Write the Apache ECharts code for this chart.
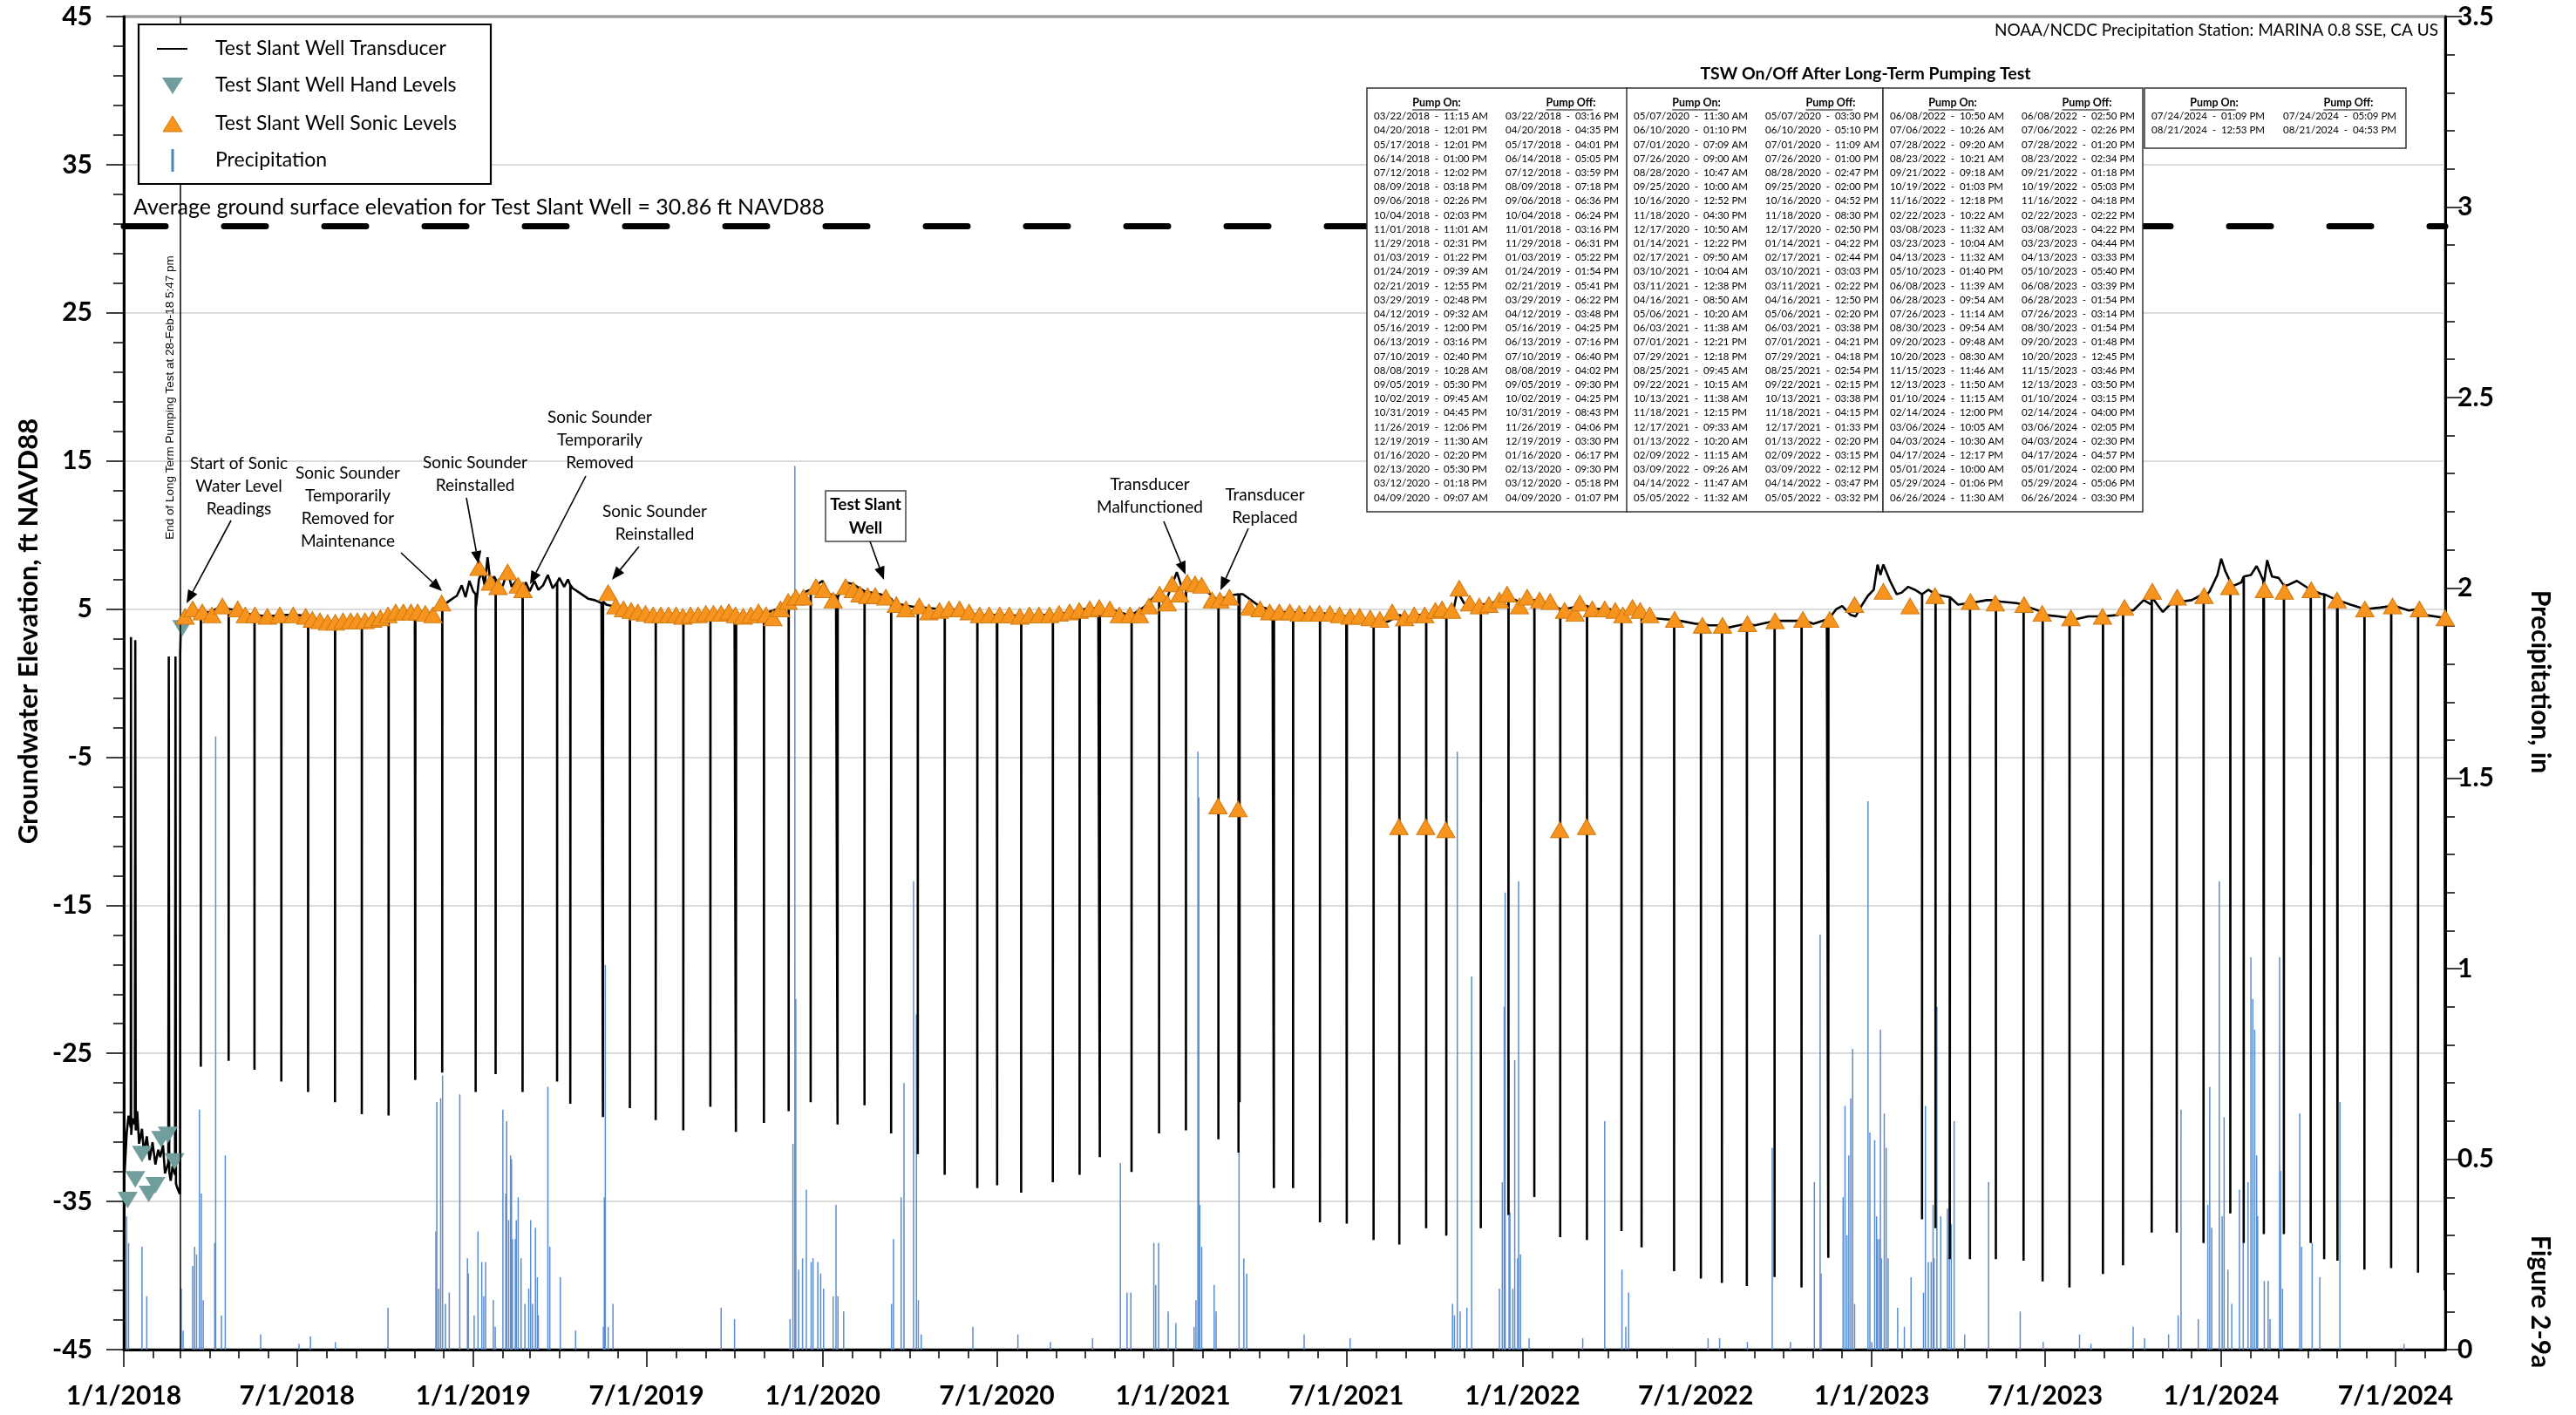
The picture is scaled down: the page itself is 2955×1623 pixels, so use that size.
<!DOCTYPE html>
<html><head><meta charset="utf-8">
<script src="https://cdn.jsdelivr.net/npm/echarts@6/dist/echarts.min.js"></script>
<style>html,body{margin:0;padding:0;background:#fff}#c{width:2955px;height:1623px}</style>
</head><body><div id="c"></div><script>
// ---------------- DATA ----------------
const seriesNames = ['Test Slant Well Transducer','Test Slant Well Hand Levels','Test Slant Well Sonic Levels','Precipitation'];

// Transducer background level (between pumping events)
const transducerBase = [
['2018-01-01',-33.5],['2018-01-02',-32.9],['2018-01-04',-30.4],['2018-01-06',-29.2],['2018-01-08 06:00',-30.0],['2018-01-08 12:00',3.1],['2018-01-08 18:00',-30.5],['2018-01-10',-29.4],['2018-01-12 12:00',-29.8],['2018-01-13 00:00',2.9],['2018-01-13 12:00',-30.2],['2018-01-15',-28.9],['2018-01-17',-31.1],['2018-01-20',-30.1],['2018-01-22',-31.7],['2018-01-25',-30.6],['2018-01-28',-32.2],['2018-01-31',-31.0],['2018-02-03',-32.5],['2018-02-06',-31.5],['2018-02-08',-32.0],['2018-02-11',-31.2],['2018-02-13',-33.1],['2018-02-16 12:00',-32.4],['2018-02-17 00:00',1.8],['2018-02-17 12:00',-33.0],['2018-02-19',-33.6],['2018-02-21',-32.6],['2018-02-23 12:00',-33.2],['2018-02-24 00:00',1.8],['2018-02-24 12:00',-33.8],['2018-02-26',-34.1],['2018-02-28 12:00',-34.5],['2018-02-28 17:47',-34.2],['2018-02-28 22:00',2.0],['2018-03-01 12:00',3.6],
['2018-03-04',4.4],['2018-03-10',4.8],['2018-03-15',5.0],['2018-04-01',4.8],['2018-04-14',5.2],['2018-05-01',4.9],['2018-05-15',4.6],['2018-06-01',4.5],['2018-06-15',4.6],['2018-07-01',4.6],['2018-07-15',4.4],['2018-08-01',4.1],['2018-08-15',4.1],['2018-09-01',4.2],['2018-09-15',4.2],['2018-10-01',4.4],['2018-10-15',4.8],['2018-11-01',4.8],['2018-11-15',4.7],['2018-12-01',5.1],['2018-12-08',5.6],['2018-12-15',5.9],['2018-12-20',6.6],['2018-12-24',5.8],['2018-12-28',6.9],
['2019-01-01',6.2],['2019-01-04',5.2],['2019-01-07',7.0],['2019-01-10',7.5],['2019-01-13',6.6],['2019-01-16',8.5],['2019-01-19',6.8],['2019-01-23',7.2],['2019-01-28',6.3],['2019-02-01',6.6],['2019-02-06',7.6],['2019-02-10',6.5],['2019-02-15',6.9],['2019-02-20',6.2],['2019-02-25',6.8],['2019-03-01',6.2],['2019-03-06',6.9],['2019-03-10',6.3],['2019-03-15',6.6],['2019-03-20',7.3],['2019-03-25',6.4],['2019-04-01',7.1],['2019-04-06',6.5],['2019-04-10',7.0],['2019-04-15',6.4],['2019-04-22',6.1],['2019-05-01',5.7],['2019-05-08',5.6],['2019-05-15',5.4],['2019-05-20',5.3],['2019-06-01',5.1],['2019-06-15',4.8],['2019-07-01',4.6],['2019-07-15',4.6],['2019-08-01',4.5],['2019-08-15',4.6],['2019-09-01',4.7],['2019-09-15',4.7],['2019-10-01',4.6],['2019-10-15',4.6],['2019-11-01',4.6],['2019-11-15',5.0],['2019-12-01',5.9],['2019-12-08',5.7],['2019-12-15',6.2],['2019-12-25',6.6],
['2020-01-01',6.9],['2020-01-08',6.0],['2020-01-15',5.9],['2020-01-25',6.8],['2020-02-01',6.7],['2020-02-15',6.2],['2020-03-01',6.0],['2020-03-15',5.4],['2020-04-01',5.2],['2020-04-15',5.1],['2020-05-01',5.0],['2020-05-15',5.0],['2020-06-01',4.7],['2020-06-15',4.6],['2020-07-01',4.6],['2020-07-15',4.6],['2020-08-01',4.5],['2020-08-15',4.6],['2020-09-01',4.6],['2020-09-15',4.8],['2020-10-01',5.0],['2020-10-15',5.1],['2020-11-01',4.9],['2020-11-15',4.6],['2020-12-01',5.1],['2020-12-15',6.0],['2020-12-25',5.6],
['2021-01-01',6.8],['2021-01-05',7.5],['2021-01-10',6.5],['2021-01-15',6.9],['2021-01-25',6.7],['2021-02-01',6.4],['2021-02-15',5.7],['2021-03-01',5.9],['2021-03-15',6.0],['2021-04-01',5.2],['2021-04-15',4.9],['2021-05-01',4.8],['2021-05-15',4.7],['2021-06-01',4.7],['2021-06-15',4.7],['2021-07-01',4.5],['2021-07-15',4.4],['2021-08-01',3.9],['2021-08-15',4.2],['2021-09-01',4.4],['2021-09-15',4.6],['2021-10-01',4.7],['2021-10-15',4.8],['2021-10-20',4.6],['2021-10-25',6.2],['2021-11-01',5.4],['2021-11-15',5.2],['2021-12-01',5.4],['2021-12-15',5.9],
['2022-01-01',5.4],['2022-01-15',5.7],['2022-02-01',5.3],['2022-02-15',5.0],['2022-03-01',5.2],['2022-03-15',5.0],['2022-04-01',5.0],['2022-04-15',4.7],['2022-05-01',4.8],['2022-05-15',4.4],['2022-06-01',4.3],['2022-06-15',4.2],['2022-07-01',4.0],['2022-07-15',3.9],['2022-08-01',3.7],['2022-08-15',3.9],['2022-09-01',3.9],['2022-09-15',4.1],['2022-10-01',4.2],['2022-10-15',4.2],['2022-11-01',4.0],['2022-11-15',4.3],['2022-11-25',5.0],['2022-12-01',5.2],['2022-12-10',4.6],['2022-12-15',4.5],['2022-12-22',5.3],['2022-12-28',5.9],
['2023-01-03',6.3],['2023-01-07',8.0],['2023-01-10',7.3],['2023-01-13',8.0],['2023-01-20',6.9],['2023-01-27',6.0],['2023-02-01',6.1],['2023-02-08',6.5],['2023-02-15',6.3],['2023-03-01',6.3],['2023-03-15',5.9],['2023-04-01',5.3],['2023-04-15',5.3],['2023-05-01',5.6],['2023-05-15',5.5],['2023-06-01',5.4],['2023-06-15',5.1],['2023-07-01',4.6],['2023-07-15',4.5],['2023-08-01',4.3],['2023-08-15',4.5],['2023-09-01',4.5],['2023-09-15',4.6],['2023-10-01',4.9],['2023-10-12',5.6],['2023-10-20',5.3],['2023-11-01',4.8],['2023-11-10',5.4],['2023-11-20',5.5],['2023-12-01',5.6],['2023-12-10',5.9],['2023-12-20',6.2],['2023-12-28',7.3],
['2024-01-01',8.4],['2024-01-05',7.6],['2024-01-10',6.9],['2024-01-15',6.6],['2024-01-22',6.8],['2024-02-01',7.3],['2024-02-07',7.9],['2024-02-10',7.5],['2024-02-14',6.9],['2024-02-18',8.3],['2024-02-23',7.2],['2024-03-01',7.1],['2024-03-10',6.6],['2024-03-20',6.9],['2024-04-01',6.4],['2024-04-15',6.0],['2024-05-01',5.6],['2024-05-15',5.3],['2024-06-01',5.0],['2024-06-15',5.1],['2024-07-01',5.2],['2024-07-15',4.9],['2024-08-01',4.6],['2024-08-22',4.4]
];

// Pump on/off table (also the timing of each drawdown spike)
const pumpOn = [
'03/22/2018 - 11:15 AM','04/20/2018 - 12:01 PM','05/17/2018 - 12:01 PM','06/14/2018 - 01:00 PM','07/12/2018 - 12:02 PM','08/09/2018 - 03:18 PM','09/06/2018 - 02:26 PM','10/04/2018 - 02:03 PM','11/01/2018 - 11:01 AM','11/29/2018 - 02:31 PM','01/03/2019 - 01:22 PM','01/24/2019 - 09:39 AM','02/21/2019 - 12:55 PM','03/29/2019 - 02:48 PM','04/12/2019 - 09:32 AM','05/16/2019 - 12:00 PM','06/13/2019 - 03:16 PM','07/10/2019 - 02:40 PM','08/08/2019 - 10:28 AM','09/05/2019 - 05:30 PM','10/02/2019 - 09:45 AM','10/31/2019 - 04:45 PM','11/26/2019 - 12:06 PM','12/19/2019 - 11:30 AM','01/16/2020 - 02:20 PM','02/13/2020 - 05:30 PM','03/12/2020 - 01:18 PM','04/09/2020 - 09:07 AM',
'05/07/2020 - 11:30 AM','06/10/2020 - 01:10 PM','07/01/2020 - 07:09 AM','07/26/2020 - 09:00 AM','08/28/2020 - 10:47 AM','09/25/2020 - 10:00 AM','10/16/2020 - 12:52 PM','11/18/2020 - 04:30 PM','12/17/2020 - 10:50 AM','01/14/2021 - 12:22 PM','02/17/2021 - 09:50 AM','03/10/2021 - 10:04 AM','03/11/2021 - 12:38 PM','04/16/2021 - 08:50 AM','05/06/2021 - 10:20 AM','06/03/2021 - 11:38 AM','07/01/2021 - 12:21 PM','07/29/2021 - 12:18 PM','08/25/2021 - 09:45 AM','09/22/2021 - 10:15 AM','10/13/2021 - 11:38 AM','11/18/2021 - 12:15 PM','12/17/2021 - 09:33 AM','01/13/2022 - 10:20 AM','02/09/2022 - 11:15 AM','03/09/2022 - 09:26 AM','04/14/2022 - 11:47 AM','05/05/2022 - 11:32 AM',
'06/08/2022 - 10:50 AM','07/06/2022 - 10:26 AM','07/28/2022 - 09:20 AM','08/23/2022 - 10:21 AM','09/21/2022 - 09:18 AM','10/19/2022 - 01:03 PM','11/16/2022 - 12:18 PM','02/22/2023 - 10:22 AM','03/08/2023 - 11:32 AM','03/23/2023 - 10:04 AM','04/13/2023 - 11:32 AM','05/10/2023 - 01:40 PM','06/08/2023 - 11:39 AM','06/28/2023 - 09:54 AM','07/26/2023 - 11:14 AM','08/30/2023 - 09:54 AM','09/20/2023 - 09:48 AM','10/20/2023 - 08:30 AM','11/15/2023 - 11:46 AM','12/13/2023 - 11:50 AM','01/10/2024 - 11:15 AM','02/14/2024 - 12:00 PM','03/06/2024 - 10:05 AM','04/03/2024 - 10:30 AM','04/17/2024 - 12:17 PM','05/01/2024 - 10:00 AM','05/29/2024 - 01:06 PM','06/26/2024 - 11:30 AM',
'07/24/2024 - 01:09 PM','08/21/2024 - 12:53 PM'];
const pumpOff = [
'03/22/2018 - 03:16 PM','04/20/2018 - 04:35 PM','05/17/2018 - 04:01 PM','06/14/2018 - 05:05 PM','07/12/2018 - 03:59 PM','08/09/2018 - 07:18 PM','09/06/2018 - 06:36 PM','10/04/2018 - 06:24 PM','11/01/2018 - 03:16 PM','11/29/2018 - 06:31 PM','01/03/2019 - 05:22 PM','01/24/2019 - 01:54 PM','02/21/2019 - 05:41 PM','03/29/2019 - 06:22 PM','04/12/2019 - 03:48 PM','05/16/2019 - 04:25 PM','06/13/2019 - 07:16 PM','07/10/2019 - 06:40 PM','08/08/2019 - 04:02 PM','09/05/2019 - 09:30 PM','10/02/2019 - 04:25 PM','10/31/2019 - 08:43 PM','11/26/2019 - 04:06 PM','12/19/2019 - 03:30 PM','01/16/2020 - 06:17 PM','02/13/2020 - 09:30 PM','03/12/2020 - 05:18 PM','04/09/2020 - 01:07 PM',
'05/07/2020 - 03:30 PM','06/10/2020 - 05:10 PM','07/01/2020 - 11:09 AM','07/26/2020 - 01:00 PM','08/28/2020 - 02:47 PM','09/25/2020 - 02:00 PM','10/16/2020 - 04:52 PM','11/18/2020 - 08:30 PM','12/17/2020 - 02:50 PM','01/14/2021 - 04:22 PM','02/17/2021 - 02:44 PM','03/10/2021 - 03:03 PM','03/11/2021 - 02:22 PM','04/16/2021 - 12:50 PM','05/06/2021 - 02:20 PM','06/03/2021 - 03:38 PM','07/01/2021 - 04:21 PM','07/29/2021 - 04:18 PM','08/25/2021 - 02:54 PM','09/22/2021 - 02:15 PM','10/13/2021 - 03:38 PM','11/18/2021 - 04:15 PM','12/17/2021 - 01:33 PM','01/13/2022 - 02:20 PM','02/09/2022 - 03:15 PM','03/09/2022 - 02:12 PM','04/14/2022 - 03:47 PM','05/05/2022 - 03:32 PM',
'06/08/2022 - 02:50 PM','07/06/2022 - 02:26 PM','07/28/2022 - 01:20 PM','08/23/2022 - 02:34 PM','09/21/2022 - 01:18 PM','10/19/2022 - 05:03 PM','11/16/2022 - 04:18 PM','02/22/2023 - 02:22 PM','03/08/2023 - 04:22 PM','03/23/2023 - 04:44 PM','04/13/2023 - 03:33 PM','05/10/2023 - 05:40 PM','06/08/2023 - 03:39 PM','06/28/2023 - 01:54 PM','07/26/2023 - 03:14 PM','08/30/2023 - 01:54 PM','09/20/2023 - 01:48 PM','10/20/2023 - 12:45 PM','11/15/2023 - 03:46 PM','12/13/2023 - 03:50 PM','01/10/2024 - 03:15 PM','02/14/2024 - 04:00 PM','03/06/2024 - 02:05 PM','04/03/2024 - 02:30 PM','04/17/2024 - 04:57 PM','05/01/2024 - 02:00 PM','05/29/2024 - 05:06 PM','06/26/2024 - 03:30 PM',
'07/24/2024 - 05:09 PM','08/21/2024 - 04:53 PM'];
// water level just before each pumping event, and the drawdown minimum (ft NAVD88)
const spikeTop = [4.8,5.0,4.6,4.6,4.5,4.1,4.2,4.6,4.8,5.2,6.0,7.0,6.4,6.8,6.6,5.5,4.8,4.6,4.5,4.7,4.6,4.7,5.4,6.3,5.8,6.2,5.7,5.1,
4.9,4.6,4.6,4.5,4.6,4.9,5.0,4.6,5.9,6.8,5.6,6.0,6.0,4.8,4.8,4.7,4.5,4.3,4.6,4.6,4.9,5.3,5.8,5.6,5.0,5.2,4.8,4.8,
4.3,4.0,3.9,4.0,4.2,4.3,4.3,6.0,6.0,5.8,5.4,5.6,5.3,4.8,4.4,4.5,5.0,5.8,5.3,5.7,6.6,6.8,6.6,6.3,6.0,5.6,5.0,5.2,
5.0,4.4];
const spikeMin = [-25.9,-25.5,-26.1,-26.9,-27.6,-28.3,-29.1,-29.2,-26.8,-26.3,-27.6,-26.4,-27.6,-26.9,-28.4,-29.3,-28.7,-29.5,-30.2,-28.6,-30.3,-29.7,-28.9,-28.3,-29.8,-28.5,-30.4,-31.8,
-33.2,-34.1,-33.9,-34.4,-33.7,-33.2,-32.0,-33.0,-30.4,-30.2,-30.8,-31.7,-28.3,-34.1,-34.1,-36.4,-36.5,-37.6,-37.9,-36.8,-37.3,-36.8,-35.9,-34.7,-37.4,-37.6,-37.0,-38.1,
-39.7,-40.2,-40.5,-40.7,-40.1,-40.8,-38.8,-36.2,-36.8,-38.9,-38.9,-38.9,-39.0,-40.4,-40.8,-39.9,-39.3,-37.1,-37.1,-37.8,-35.8,-37.2,-37.2,-37.8,-38.9,-39.0,-39.6,-39.5,
-39.8,-41.0];
// one drawdown seen in the record that is not listed in the table
const extraSpike = {on:'2024-01-24 11:00', off:'2024-01-24 15:00', top:7.2, min:-37.8};

const handLevels = [['2018-01-05',-34.9],['2018-01-13',-33.5],['2018-01-20',-31.8],['2018-01-27',-34.5],['2018-02-03',-33.9],['2018-02-09',-30.8],['2018-02-16',-30.5],['2018-02-23',-32.3],['2018-03-03',3.7]];

const sonicLevels = [
['2018-03-06',4.5],['2018-03-14',5.0],['2018-03-24',4.8],['2018-04-03',4.6],['2018-04-14',5.2],['2018-04-30',5.0],['2018-05-08',4.6],['2018-05-18',4.6],['2018-05-31',4.5],['2018-06-13',4.6],['2018-06-27',4.6],['2018-07-10',4.5],['2018-07-17',4.3],['2018-07-25',4.2],['2018-08-02',4.1],['2018-08-10',4.1],['2018-08-18',4.2],['2018-08-26',4.2],['2018-09-02',4.2],['2018-09-10',4.2],['2018-09-18',4.3],['2018-09-26',4.4],['2018-10-04',4.6],['2018-10-12',4.8],['2018-10-20',4.8],['2018-10-28',4.8],['2018-11-04',4.8],['2018-11-12',4.7],['2018-11-20',4.6],['2018-11-29',5.4],
['2019-01-07',7.8],['2019-01-19',6.8],['2019-01-27',6.5],['2019-02-06',7.5],['2019-02-17',6.6],['2019-02-22',6.3],
['2019-05-22',6.1],['2019-05-30',5.2],['2019-06-07',5.0],['2019-06-15',4.9],['2019-06-22',4.8],['2019-06-30',4.7],['2019-07-08',4.6],['2019-07-16',4.6],['2019-07-24',4.6],['2019-08-01',4.6],['2019-08-08',4.5],['2019-08-16',4.6],['2019-08-24',4.6],['2019-09-01',4.7],['2019-09-09',4.7],['2019-09-17',4.7],['2019-09-25',4.8],['2019-10-02',4.6],['2019-10-10',4.5],['2019-10-18',4.6],['2019-10-26',4.8],['2019-11-03',4.6],['2019-11-10',4.4],['2019-11-18',5.0],['2019-11-26',5.5],['2019-12-04',5.8],['2019-12-12',5.8],['2019-12-25',6.5],
['2020-01-02',6.3],['2020-01-12',5.6],['2020-01-25',6.5],['2020-02-02',6.3],['2020-02-09',6.0],['2020-02-17',5.9],['2020-02-25',5.9],['2020-03-07',5.8],['2020-03-18',5.3],['2020-03-28',5.0],['2020-04-11',5.2],['2020-04-21',4.8],['2020-05-02',4.9],['2020-05-12',5.0],['2020-05-23',5.0],['2020-06-02',4.8],['2020-06-13',4.6],['2020-06-23',4.6],['2020-07-04',4.6],['2020-07-14',4.6],['2020-07-25',4.5],['2020-08-04',4.6],['2020-08-14',4.6],['2020-08-25',4.6],['2020-09-04',4.7],['2020-09-15',4.8],['2020-09-25',4.9],['2020-10-06',5.0],['2020-10-16',5.1],['2020-10-27',5.0],['2020-11-06',4.6],['2020-11-17',4.6],['2020-11-27',4.6],['2020-12-07',5.2],['2020-12-18',6.0],['2020-12-26',5.4],['2020-12-31',6.7],
['2021-01-08',6.0],['2021-01-16',6.8],['2021-01-24',6.7],['2021-01-31',6.6],['2021-02-11',5.6],['2021-02-17',-8.3],['2021-02-19',5.6],['2021-03-01',5.8],['2021-03-10',-8.5],['2021-03-22',5.1],['2021-04-02',5.0],['2021-04-12',4.8],['2021-04-22',4.8],['2021-05-03',4.8],['2021-05-13',4.7],['2021-05-24',4.7],['2021-06-03',4.7],['2021-06-14',4.7],['2021-06-24',4.6],['2021-07-05',4.5],['2021-07-15',4.5],['2021-07-26',4.4],['2021-08-05',4.3],['2021-08-18',4.8],['2021-08-25',-9.7],['2021-08-31',4.4],['2021-09-10',4.6],['2021-09-21',4.6],['2021-09-22',-9.7],['2021-10-02',4.9],['2021-10-09',5.0],['2021-10-13',-9.9],['2021-10-19',4.9],['2021-10-27',6.4],['2021-11-07',5.4],['2021-11-17',5.2],['2021-11-27',5.3],['2021-12-08',5.6],['2021-12-16',6.0],['2021-12-29',5.2],
['2022-01-06',5.8],['2022-01-19',5.6],['2022-01-30',5.5],['2022-02-09',-9.9],['2022-02-14',4.9],['2022-02-25',4.7],['2022-03-02',5.4],['2022-03-09',-9.7],['2022-03-15',5.0],['2022-03-28',5.0],['2022-04-08',4.9],['2022-04-16',4.6],['2022-04-26',5.1],['2022-05-04',4.9],['2022-05-14',4.6],['2022-06-09',4.3],['2022-07-08',3.9],['2022-07-29',3.9],['2022-08-24',4.0],['2022-09-22',4.2],['2022-10-21',4.3],['2022-11-18',4.3],['2022-12-14',5.3],
['2023-01-13',6.2],['2023-02-10',5.2],['2023-03-08',5.9],['2023-04-14',5.5],['2023-05-10',5.4],['2023-06-09',5.3],['2023-06-28',4.7],['2023-07-28',4.4],['2023-08-30',4.5],['2023-09-22',5.1],['2023-10-21',6.2],['2023-11-16',5.8],['2023-12-14',5.9],
['2024-01-10',6.5],['2024-02-15',6.3],['2024-03-07',6.2],['2024-04-04',6.3],['2024-05-01',5.6],['2024-05-30',5.0],['2024-06-28',5.2],['2024-07-26',5.0],['2024-08-22',4.4]
];

// daily precipitation, inches
const precipitation = [
['2018-01-04',0.35],['2018-01-06',0.28],['2018-01-20',0.27],['2018-01-25',0.14],['2018-03-02',0.16],['2018-03-04',0.05],['2018-03-14',0.22],['2018-03-16',0.27],['2018-03-18',0.25],['2018-03-21',0.63],['2018-03-23',0.41],['2018-03-25',0.13],['2018-04-06',0.28],['2018-04-07',1.61],['2018-04-13',0.09],['2018-04-17',0.51],['2018-05-24',0.04],['2018-07-03',0.015],['2018-07-15',0.035],['2018-08-10',0.02],['2018-10-04',0.11],
['2018-11-23',0.31],['2018-11-24',0.65],['2018-11-26',0.16],['2018-11-28',0.66],['2018-11-30',0.72],['2018-12-03',0.12],['2018-12-07',0.15],['2018-12-18',0.67],['2018-12-26',0.24],['2018-12-27',0.2],
['2019-01-02',0.09],['2019-01-06',0.31],['2019-01-10',0.23],['2019-01-12',0.14],['2019-01-14',0.23],['2019-01-22',0.13],['2019-01-24',0.06],['2019-02-01',0.63],['2019-02-04',0.41],['2019-02-05',0.6],['2019-02-07',0.34],['2019-02-09',0.51],['2019-02-10',0.5],['2019-02-11',0.29],['2019-02-14',0.29],['2019-02-15',0.34],['2019-02-17',0.4],['2019-02-20',0.24],['2019-02-24',0.12],['2019-02-28',0.16],['2019-03-02',0.34],['2019-03-04',0.12],['2019-03-07',0.32],['2019-03-09',0.19],['2019-03-10',0.09],['2019-03-20',0.69],['2019-03-22',0.27],['2019-04-02',0.19],['2019-04-18',0.05],['2019-05-17',0.06],['2019-05-18',0.4],['2019-05-19',1.01],['2019-05-22',0.06],['2019-05-27',0.12],['2019-09-17',0.11],['2019-10-01',0.08],
['2019-11-28',0.08],['2019-12-01',0.54],['2019-12-03',2.32],['2019-12-04',0.92],['2019-12-07',0.21],['2019-12-11',0.24],['2019-12-15',0.42],['2019-12-20',0.23],['2019-12-22',0.24],['2019-12-27',0.23],['2019-12-30',0.2],
['2020-01-02',0.16],['2020-01-12',0.14],['2020-01-15',0.38],['2020-01-17',0.14],['2020-01-23',0.1],['2020-03-13',0.12],['2020-03-15',0.29],['2020-03-23',0.40],['2020-03-26',0.70],['2020-04-05',1.23],['2020-04-08',0.88],['2020-04-10',0.13],['2020-04-13',0.04],['2020-06-06',0.06],['2020-07-23',0.04],['2020-08-26',0.02],['2020-10-09',0.03],
['2020-11-07',0.49],['2020-11-14',0.15],['2020-11-18',0.15],['2020-12-12',0.28],['2020-12-14',0.17],['2020-12-17',0.28],['2020-12-27',0.1],
['2021-01-04',0.07],['2021-01-23',0.06],['2021-01-25',0.13],['2021-01-27',1.57],['2021-01-28',1.45],['2021-01-29',0.38],['2021-01-31',0.27],['2021-02-13',0.17],['2021-02-15',0.1],['2021-03-11',0.52],['2021-03-16',0.24],['2021-03-19',0.2],['2021-05-18',0.04],['2021-07-05',0.03],
['2021-10-20',0.12],['2021-10-22',0.09],['2021-10-25',1.57],['2021-10-28',0.1],['2021-11-04',0.11],['2021-11-09',0.98],['2021-12-08',0.16],['2021-12-11',0.44],['2021-12-13',0.9],['2021-12-14',1.2],['2021-12-18',0.76],['2021-12-19',0.36],['2021-12-22',0.16],['2021-12-24',0.76],['2021-12-27',0.24],['2021-12-28',1.23],['2021-12-30',0.25],
['2022-01-08',0.03],['2022-03-05',0.03],['2022-03-28',0.6],['2022-04-15',0.21],['2022-04-19',0.06],['2022-04-22',0.15],['2022-07-14',0.03],['2022-07-26',0.03],['2022-08-24',0.02],['2022-09-19',0.53],['2022-10-08',0.02],
['2022-11-02',0.44],['2022-11-08',1.09],['2022-11-09',0.2],['2022-12-02',0.40],['2022-12-04',0.64],['2022-12-06',0.3],['2022-12-08',0.51],['2022-12-10',0.66],['2022-12-12',0.79],['2022-12-14',0.12],['2022-12-28',1.44],['2022-12-30',0.57],
['2023-01-01',0.02],['2023-01-04',0.55],['2023-01-06',0.35],['2023-01-07',0.29],['2023-01-09',0.29],['2023-01-10',0.84],['2023-01-11',0.24],['2023-01-14',0.62],['2023-01-16',0.53],['2023-01-18',0.24],['2023-01-28',0.11],['2023-02-04',0.06],['2023-02-11',0.19],['2023-02-24',0.15],['2023-02-26',0.64],['2023-03-01',0.23],['2023-03-04',0.23],['2023-03-06',0.38],['2023-03-07',0.24],['2023-03-10',0.9],['2023-03-14',0.35],['2023-03-21',0.37],['2023-03-23',1.09],['2023-03-25',0.33],['2023-03-28',0.6],['2023-04-08',0.04],['2023-05-03',0.44],['2023-06-05',0.1],['2023-06-29',0.02],['2023-08-06',0.04],['2023-08-18',0.015],['2023-10-01',0.06],['2023-10-13',0.03],
['2023-11-07',0.04],['2023-11-17',0.09],['2023-11-20',0.63],['2023-12-08',0.08],['2023-12-18',0.38],['2023-12-20',0.69],['2023-12-22',0.32],['2023-12-30',1.23],
['2024-01-02',0.35],['2024-01-04',0.61],['2024-01-08',0.21],['2024-01-12',0.12],['2024-01-20',0.42],['2024-01-24',0.28],['2024-01-29',0.44],['2024-02-01',1.03],['2024-02-03',0.92],['2024-02-05',0.84],['2024-02-07',0.51],['2024-02-08',0.35],['2024-02-15',0.18],['2024-02-19',0.18],['2024-02-21',0.08],['2024-03-02',1.03],['2024-03-03',0.47],['2024-03-05',0.16],['2024-03-23',0.62],['2024-03-25',0.27],['2024-04-05',0.28],['2024-04-13',0.19],['2024-05-04',0.65],['2024-07-10',0.015]
];

const groundSurface = 30.86;
const endOfTest = '2018-02-28 17:47';
const xMin = '2018-01-01', xMax = '2024-08-22';
const leftTicks = [-45,-35,-25,-15,-5,5,15,25,35,45];
const rightTicks = [0,0.5,1,1.5,2,2.5,3,3.5];

// ---------------- HELPERS ----------------
function ts(s){const m=s.match(/(\d{4})-(\d{2})-(\d{2})(?: (\d{2}):(\d{2}))?/);return new Date(+m[1],+m[2]-1,+m[3],m[4]?+m[4]:0,m[5]?+m[5]:0).getTime();}
function tt(s){const m=s.match(/(\d{2})\/(\d{2})\/(\d{4})\s+-\s+(\d{2}):(\d{2}) (AM|PM)/);let h=(+m[4])%12;if(m[6]==='PM')h+=12;return new Date(+m[3],+m[1]-1,+m[2],h,+m[5]).getTime();}
const HOUR=3600e3;

let trans = transducerBase.map(p=>[ts(p[0]),p[1]]);
pumpOn.forEach((s,i)=>{const on=tt(s),off=tt(pumpOff[i]);trans.push([on,spikeTop[i]],[on+0.5*HOUR,spikeMin[i]],[off,spikeMin[i]],[off+0.5*HOUR,spikeTop[i]]);});
{const on=ts(extraSpike.on),off=ts(extraSpike.off);trans.push([on,extraSpike.top],[on+0.5*HOUR,extraSpike.min],[off,extraSpike.min],[off+0.5*HOUR,extraSpike.top]);}
trans.sort((a,b)=>a[0]-b[0]);

const monthTicks=[],labelTicks=[];
for(let y=2018;y<=2024;y++){for(let m=0;m<12;m++){const t=new Date(y,m,1).getTime();if(t>ts(xMax))break;monthTicks.push(t);if(m===0||m===6)labelTicks.push(t);}}

const FONT='Lato';
const chart=echarts.init(document.getElementById('c'),null,{renderer:'canvas'});

// ---------------- GRAPHICS (text, legend, table, notes) ----------------
const G=[];
const measure=(()=>{const c=document.createElement('canvas').getContext('2d');return (txt,font)=>{c.font=font;return c.measureText(txt).width;};})();
function txt(x,y,text,o){o=o||{};const st={text,fill:o.fill||'#000',fontSize:o.size||19,fontFamily:o.family||FONT,fontWeight:o.weight||'normal',align:o.align||'center',verticalAlign:o.valign||'middle'};if(o.lh)st.lineHeight=o.lh;G.push({type:'text',x,y,rotation:o.rot||0,z:o.z||110,style:st});}
function line(x1,y1,x2,y2,w,c,z){G.push({type:'line',z:z||105,shape:{x1,y1,x2,y2},style:{stroke:c||'#000',lineWidth:w||1.5}});}
function rect(x,y,w,h,o){o=o||{};G.push({type:'rect',z:o.z||100,shape:{x,y,width:w,height:h},style:{fill:o.fill||'#fff',stroke:o.stroke||'#000',lineWidth:o.lw||1.5}});}
function arrow(x1,y1,x2,y2){const a=Math.atan2(y2-y1,x2-x1),L=15,W=6;const bx=x2-L*Math.cos(a),by=y2-L*Math.sin(a);line(x1,y1,bx,by,1.6);G.push({type:'polygon',z:106,shape:{points:[[x2,y2],[bx+W*Math.sin(a),by-W*Math.cos(a)],[bx-W*Math.sin(a),by+W*Math.cos(a)]]},style:{fill:'#000'}});}

// axis titles
txt(33,724,'Groundwater Elevation, ft NAVD88',{rot:Math.PI/2,size:31,weight:'bold'});
txt(2914,782,'Precipitation, in',{rot:-Math.PI/2,size:30,weight:'bold'});
txt(2914,1493,'Figure 2-9a',{rot:-Math.PI/2,size:30,weight:'bold'});
txt(2797,35,'NOAA/NCDC Precipitation Station: MARINA 0.8 SSE, CA US',{align:'right',size:19});
txt(153,238,'Average ground surface elevation for Test Slant Well = 30.86 ft NAVD88',{align:'left',size:25});
txt(195,456,'End of Long Term Pumping Test at 28-Feb-18 5:47 pm',{rot:Math.PI/2,size:13.5,family:'Liberation Sans'});

// legend
rect(159,28,404,183,{lw:2.2});
line(180,56,215,56,2,'#000',112);
G.push({type:'polygon',z:112,shape:{points:[[186,89],[210,89],[198,108]]},style:{fill:'#6F9E9C'}});
G.push({type:'polygon',z:112,shape:{points:[[187,151],[209,151],[198,133]]},style:{fill:'#F7941D',stroke:'#D07A10',lineWidth:1}});
line(198,171,198,197,3,'#4F81BD',112);
[[56,seriesNames[0]],[98,seriesNames[1]],[142,seriesNames[2]],[184,seriesNames[3]]].forEach(r=>txt(247,r[0],r[1],{align:'left',size:23}));

// annotations
const AN={size:19,lh:26};
txt(274,558,'Start of Sonic\nWater Level\nReadings',AN); arrow(265,597,214,692);
txt(399,582,'Sonic Sounder\nTemporarily\nRemoved for\nMaintenance',AN); arrow(460,634,507,678);
txt(545,544,'Sonic Sounder\nReinstalled',AN); arrow(535,571,549,647);
txt(688,505,'Sonic Sounder\nTemporarily\nRemoved',AN); arrow(672,546,608,670);
txt(751,600,'Sonic Sounder\nReinstalled',AN); arrow(733,627,702,665);
rect(947,563,92,58,{stroke:'#444',lw:1.5});
txt(993,592,'Test Slant\nWell',{size:19,lh:27,weight:'bold'}); arrow(998,621,1014,665);
txt(1319,569,'Transducer\nMalfunctioned',AN); arrow(1335,598,1360,659);
txt(1451,581,'Transducer\nReplaced',AN); arrow(1432,606,1400,677);

// table
txt(2140,85,'TSW On/Off After Long-Term Pumping Test',{size:19.5,weight:'bold'});
const boxes=[{x:1568,w:299,from:0,n:28,h:486},{x:1866,w:294,from:28,n:28,h:486},{x:2160,w:298,from:56,n:28,h:486},{x:2460,w:300,from:84,n:2,h:69}];
const HF='bold 12.5px '+FONT;
const sample=pumpOn[0].replace(' - ','  -  ');
const rowSize=Math.min(13,12*131/measure(sample,'12px '+FONT));
boxes.forEach(b=>{
  rect(b.x,101,b.w,b.h,{stroke:'#333',lw:1.5,z:100});
  [['Pump On',b.x+80],['Pump Off',b.x+234]].forEach(h=>{
    const w=measure(h[0]+':',HF),w0=measure(h[0],HF);
    txt(h[1],118,h[0]+':',{size:12.5,weight:'bold'});
    line(h[1]-w/2,126,h[1]-w/2+w0,126,1,'#000',112);
  });
  for(let i=0;i<b.n;i++){
    const y=133.5+16.2*i;
    txt(b.x+8,y,pumpOn[b.from+i].replace(' - ','  -  '),{align:'left',size:rowSize});
    txt(b.x+159,y,pumpOff[b.from+i].replace(' - ','  -  '),{align:'left',size:rowSize});
  }
});

// ---------------- OPTION ----------------
const axisFont={fontFamily:FONT,fontWeight:'bold',fontSize:30,color:'#000'};
const fmtDate=v=>{const d=new Date(v);return (d.getMonth()+1)+'/'+d.getDate()+'/'+d.getFullYear();};
const option={
  animation:false,
  backgroundColor:'#fff',
  grid:{left:142,right:150,top:19,bottom:75,show:true,borderColor:'#000',borderWidth:2.5,backgroundColor:'transparent'},
  xAxis:[
    {type:'value',min:ts(xMin),max:ts(xMax),axisLine:{onZero:false,lineStyle:{color:'#000',width:3}},
     axisTick:{show:true,customValues:monthTicks,length:10,lineStyle:{color:'#000',width:1.5}},
     axisLabel:{show:false},splitLine:{show:false}},
    {type:'value',min:ts(xMin),max:ts(xMax),position:'bottom',axisLine:{show:false,onZero:false},
     axisTick:{show:true,customValues:labelTicks,length:20,lineStyle:{color:'#000',width:1.5}},
     axisLabel:Object.assign({show:true,customValues:labelTicks,margin:38,hideOverlap:false,showMinLabel:true,showMaxLabel:true,formatter:fmtDate},axisFont),
     splitLine:{show:false}}
  ],
  yAxis:[
    {type:'value',min:leftTicks[0],max:leftTicks[leftTicks.length-1],interval:10,
     axisLine:{show:true,onZero:false,lineStyle:{color:'#000',width:3}},
     axisTick:{show:true,length:20,lineStyle:{color:'#000',width:1.5}},
     minorTick:{show:true,splitNumber:5,length:12,lineStyle:{color:'#000',width:1.5}},
     splitLine:{show:true,lineStyle:{color:'#cfcfcf',width:1.5}},
     axisLabel:Object.assign({margin:36},axisFont)},
    {type:'value',position:'right',min:rightTicks[0],max:rightTicks[rightTicks.length-1],interval:0.5,
     axisLine:{show:true,onZero:false,lineStyle:{color:'#000',width:3}},
     axisTick:{show:true,length:19,lineStyle:{color:'#000',width:1.5}},
     minorTick:{show:true,splitNumber:5,length:11,lineStyle:{color:'#000',width:1.5}},
     splitLine:{show:false},
     axisLabel:Object.assign({margin:14},axisFont)}
  ],
  graphic:{elements:G},
  series:[
    {name:seriesNames[3],type:'bar',xAxisIndex:0,yAxisIndex:1,barWidth:1.5,z:1,
     itemStyle:{color:'#5B8DD0'},data:precipitation.map(p=>[ts(p[0]),p[1]])},
    {name:seriesNames[0],type:'line',xAxisIndex:0,yAxisIndex:0,z:3,showSymbol:false,symbol:'none',sampling:'none',
     lineStyle:{color:'#000',width:2.6},data:trans,
     markLine:{silent:true,symbol:'none',label:{show:false},data:[
       {yAxis:groundSurface,lineStyle:{color:'#000',width:7,type:[48,67],cap:'round'}},
       {xAxis:ts(endOfTest),lineStyle:{color:'#000',width:1.5,type:'solid'}}
     ]}},
    {name:seriesNames[1],type:'scatter',xAxisIndex:0,yAxisIndex:0,z:4,symbol:'triangle',symbolRotate:180,symbolSize:[23,19],
     itemStyle:{color:'#6F9E9C',opacity:1},data:handLevels.map(p=>[ts(p[0]),p[1]])},
    {name:seriesNames[2],type:'scatter',xAxisIndex:0,yAxisIndex:0,z:5,symbol:'triangle',symbolSize:[21,18],
     itemStyle:{color:'#F7941D',borderColor:'#D07A10',borderWidth:1,opacity:1},data:sonicLevels.map(p=>[ts(p[0]),p[1]])}
  ]
};
chart.setOption(option);
</script></body></html>
